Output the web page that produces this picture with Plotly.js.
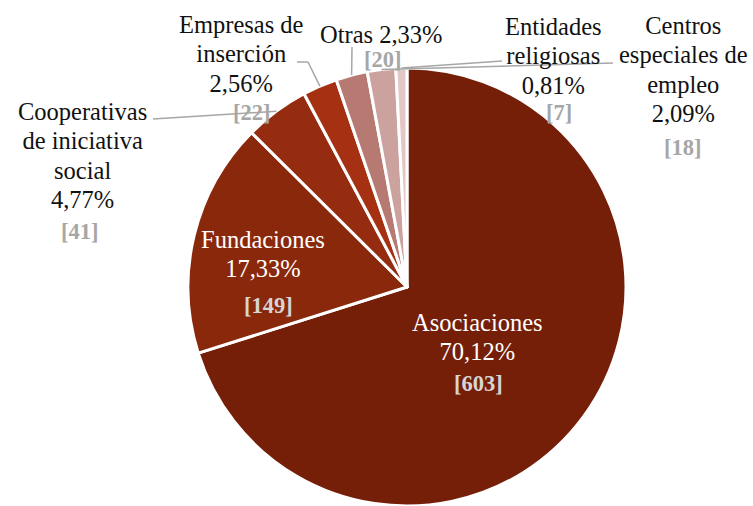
<!DOCTYPE html>
<html>
<head>
<meta charset="utf-8">
<script src="https://cdn.plot.ly/plotly-3.0.1.min.js"></script>
<style>html,body{margin:0;padding:0;background:#fff;}#chart{width:753px;height:506px;}</style>
</head>
<body>
<div id="chart"></div>
<script>
// ---- data ----
const categories = ["Asociaciones", "Fundaciones", "Cooperativas de iniciativa social", "Empresas de inserción", "Otras", "Centros especiales de empleo", "Entidades religiosas"];
const labelLines = [["Asociaciones"], ["Fundaciones"], ["Cooperativas", "de iniciativa", "social"], ["Empresas de", "inserción"], ["Otras"], ["Centros", "especiales de", "empleo"], ["Entidades", "religiosas"]];
const counts = [603, 149, 41, 22, 20, 18, 7];
const percents = ["70,12%", "17,33%", "4,77%", "2,56%", "2,33%", "2,09%", "0,81%"];
const colors = ["#761F08", "#8A280C", "#952B0F", "#A53112", "#B67A72", "#CCA29E", "#E2C7C6"];

// ---- layout helpers (pixel -> paper) ----
const W = 753, H = 506;
const px = x => x / W;
const py = y => 1 - y / H;
const CX = 407, CY = 287, R = 219;

const FONT = "Liberation Serif";
const BASE = 22.6;   // controls line spacing
const GLYPH = 24.5;  // visible glyph size
// label block positions (pixels) and bracket positions
const labelPos = [[477, 337], [263, 254], [82, 155], [241, 54], [381, 34], [683, 70], [553, 56]];
const bracketPos = [[478, 383], [268, 305], [80, 231], [252, 112], [383, 59], [683, 147], [559, 112]];
const inside = [true, true, false, false, false, false, false];
const labelJoin = [true, true, true, true, false, true, true];
// leader line starts (pixels), null = none
const leaderStart = [null, null, [[153, 119]], [[297, 62], [308, 62]], [[352, 47]], [[613, 63]], [[502, 61]]];

const total = counts.reduce((a, b) => a + b, 0);
const annotations = [];
const shapes = [];
let cum = 0;
const sz = s => '<span style="font-size:' + GLYPH + 'px">' + s + '</span>';
counts.forEach((v, i) => {
  const a0 = cum / total * 2 * Math.PI;
  cum += v;
  const a1 = cum / total * 2 * Math.PI;
  const mid = (a0 + a1) / 2;
  const ex = CX + R * Math.sin(mid), ey = CY - R * Math.cos(mid);
  let lines = labelLines[i].slice();
  if (labelJoin[i]) lines.push(percents[i]); else lines[lines.length - 1] += " " + percents[i];
  const txt = lines.map(sz).join("<br>");
  annotations.push({
    xref: "paper", yref: "paper", x: px(labelPos[i][0]), y: py(labelPos[i][1]),
    xanchor: "center", yanchor: "middle", showarrow: false, align: "center",
    text: txt, font: {family: FONT, size: BASE, color: inside[i] ? "#ffffff" : "#111111"}
  });
  annotations.push({
    xref: "paper", yref: "paper", x: px(bracketPos[i][0]), y: py(bracketPos[i][1]),
    xanchor: "center", yanchor: "middle", showarrow: false,
    text: "<b>[" + counts[i] + "]</b>", font: {family: FONT, size: 22.5, color: inside[i] ? "#D6D6D6" : "#A6A6A6"}
  });
  if (leaderStart[i]) {
    const pts = leaderStart[i].concat([[ex, ey]]);
    for (let k = 0; k < pts.length - 1; k++) {
      shapes.push({type: "line", xref: "paper", yref: "paper",
        x0: px(pts[k][0]), y0: py(pts[k][1]), x1: px(pts[k + 1][0]), y1: py(pts[k + 1][1]),
        line: {color: "#A6A6A6", width: 1.5}});
    }
  }
});

const trace = {
  type: "pie", labels: categories, values: counts, sort: false, direction: "clockwise", rotation: 0,
  marker: {colors: colors, line: {color: "#ffffff", width: 3}},
  textinfo: "none", hoverinfo: "label+value+percent", showlegend: false,
  domain: {x: [px(CX - R), px(CX + R)], y: [py(CY + R), py(CY - R)]}
};

const layout = {
  width: W, height: H, margin: {l: 0, r: 0, t: 0, b: 0},
  paper_bgcolor: "#ffffff", plot_bgcolor: "#ffffff",
  showlegend: false, annotations: annotations, shapes: shapes
};
Plotly.newPlot("chart", [trace], layout, {displayModeBar: false, staticPlot: true});
</script>
</body>
</html>
